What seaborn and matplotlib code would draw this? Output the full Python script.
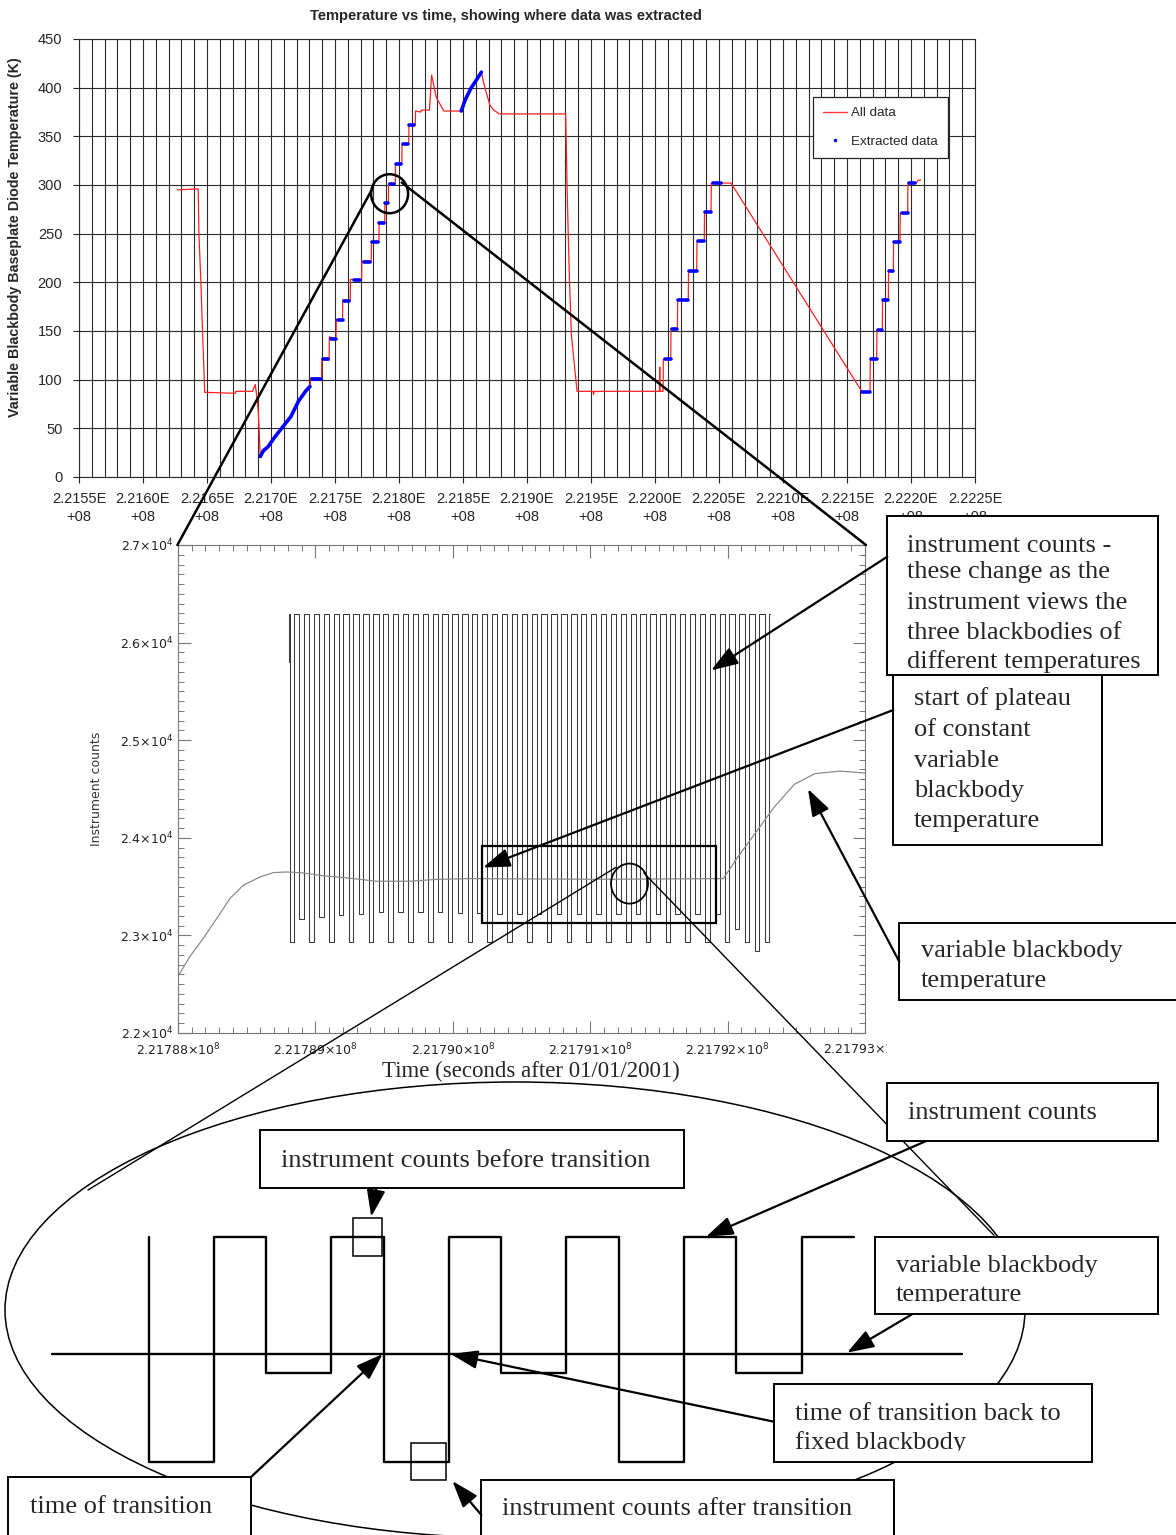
import numpy as np
import pandas as pd
import matplotlib
matplotlib.use('Agg')
import matplotlib.pyplot as plt
import seaborn as sns
from matplotlib.patches import Rectangle, Ellipse
from matplotlib.lines import Line2D
from matplotlib.transforms import Bbox, TransformedBbox

W, H = 1176, 1535

# ---------------- top chart: baseplate temperature (K) vs time (s)
red_t = [221626700, 221643100, 221643750, 221645200, 221646700, 221648200, 221672200, 221672400,
         221685600, 221687700, 221689200, 221690100, 221691600, 221697600, 221703500, 221709500,
         221715500, 221721500, 221727500, 221730500, 221731100, 221739500, 221739700, 221745400,
         221745600, 221750800, 221751000, 221755900, 221756100, 221761900, 221762100, 221770800,
         221771000, 221778300, 221778500, 221784300, 221784500, 221788800, 221789000, 221791700,
         221791900, 221797100, 221797300, 221802200, 221802400, 221807600, 221807800, 221812700,
         221812900, 221817200, 221817400, 221823750, 221825500, 221829100, 221835100, 221848600,
         221851600, 221856000, 221860500, 221864400, 221866500, 221871000, 221874000, 221878400,
         221930200, 221931600, 221933200, 221934700, 221936800, 221939100, 221951600, 221952000,
         221952400, 222003400, 222003700, 222004000, 222006300, 222006500, 222012300, 222012500,
         222017500, 222017700, 222026000, 222026200, 222032600, 222032800, 222038500, 222038700,
         222043800, 222044000, 222059400, 222161500, 222168000, 222168200, 222173200, 222173400,
         222177600, 222177800, 222182300, 222182500, 222186200, 222186400, 222191400, 222191600,
         222197400, 222197600, 222203900, 222205700, 222207600]
red_k = [295, 296, 247, 201, 142, 87, 86, 88,
         88, 95, 80, 67, 21, 31, 42, 52,
         62, 78, 89, 93, 102, 101, 121, 120,
         144, 142, 162, 161, 182, 181, 203, 202,
         222, 221, 242, 241, 262, 261, 282, 281,
         302, 301, 322, 322, 342, 342, 362, 362,
         376, 375, 377, 377, 413, 390, 376, 376,
         387, 399, 408, 416, 403, 382, 377, 373,
         373, 281, 201, 146, 118, 88, 88, 85,
         88, 88, 113, 88, 88, 121, 121, 152,
         152, 182, 182, 212, 212, 242, 242, 272,
         272, 302, 302, 88, 87, 121, 121, 151,
         151, 182, 182, 212, 212, 241, 241, 271,
         271, 302, 302, 305, 305]

# extracted plateaus (start, end, level)
ext_t0 = [221731950, 221740900, 221746900, 221752000, 221757300, 221764800, 221772300, 221779200,
          221784300, 221788800, 221792700, 221798000, 221802800, 221808200, 222007800, 222013000,
          222018200, 222026800, 222033400, 222039100, 222045500, 222161500, 222168800, 222174000,
          222178400, 222182800, 222187000, 222192700, 222198400]
ext_t1 = [221739450, 221744800, 221750800, 221755900, 221761300, 221769300, 221777700, 221783700,
          221787900, 221791700, 221796300, 221801600, 221807000, 221812100, 222012200, 222017400,
          222026000, 222032600, 222038500, 222043800, 222051300, 222168000, 222173200, 222177100,
          222182300, 222186200, 222191400, 222197400, 222203100]
ext_k = [101, 121, 142, 161, 181, 202, 221, 241,
         261, 281, 301, 322, 342, 362, 121, 152,
         182, 212, 242, 272, 302, 87, 121, 151,
         182, 212, 241, 271, 302]
# extracted ramps
ramp1_t = [221691600, 221694000, 221697600, 221703500, 221709500, 221715500, 221721500, 221727500, 221730500]
ramp1_k = [21, 27, 31, 42, 52, 62, 78, 89, 93]
ramp2_t = [221848600, 221851600, 221856000, 221860500, 221864400]
ramp2_k = [376, 387, 399, 408, 416]

# ---------------- middle chart: instrument counts vs time
wave_base = 221788000
wave_high = 26290
wave_start_offset, wave_start_level = 810, 25800
wave_end_offset = 4311
dip_halfwidth = 16.5
dip_offsets = [828, 900, 972, 1044, 1116, 1188, 1260, 1332, 1404, 1476, 1548, 1620, 1692, 1764,
               1836, 1908, 1980, 2052, 2124, 2196, 2268, 2341, 2413, 2485, 2557, 2629, 2701, 2773,
               2845, 2917, 2989, 3061, 3133, 3205, 3277, 3349, 3421, 3493, 3565, 3637, 3709, 3781,
               3853, 3925, 3997, 4069, 4141, 4214, 4286]
dip_levels = [22930, 23170, 22930, 23190, 22930, 23205, 22930, 23220, 22930, 23235, 22930, 23240,
              22930, 23240, 22930, 23235, 22930, 23230, 22930, 23225, 22930, 23220, 22930, 23220,
              22930, 23215, 22930, 23215, 22930, 23215, 22930, 23215, 22930, 23215, 22930, 23215,
              22930, 23215, 22930, 23220, 22930, 23220, 22930, 23220, 22930, 23070, 22930, 22840,
              22930]
bb_offsets = [0, 87, 184, 282, 378, 475, 597, 694, 791, 912, 1033, 1276, 1446, 1688, 1883,
              2125, 3084, 3969, 4066, 4163, 4337, 4485, 4634, 4819, 5000]
bb_counts = [22580, 22785, 22970, 23173, 23378, 23513, 23599, 23643, 23650, 23640, 23615, 23582,
             23555, 23555, 23574, 23582, 23575, 23582, 23786, 23974, 24310, 24547, 24657, 24683, 24664]

# schematic of the square wave (diagram)
schem_x = [148.5, 148.5, 213.5, 213.5, 266.4, 266.4, 331.4, 331.4, 383.9, 383.9, 448.9, 448.9,
           501.3, 501.3, 566.4, 566.4, 619.2, 619.2, 684.3, 684.3, 736, 736, 801.8, 801.8, 853.8]
schem_y = [1236.7, 1461.7, 1461.7, 1236.7, 1236.7, 1372.7, 1372.7, 1236.7, 1236.7, 1461.7, 1461.7,
           1236.7, 1236.7, 1372.7, 1372.7, 1236.7, 1236.7, 1461.7, 1461.7, 1236.7, 1236.7, 1372.7,
           1372.7, 1236.7, 1236.7]

sns.set_style('white')
plt.rcParams['font.family'] = ['Liberation Sans', 'DejaVu Sans']

fig = plt.figure(figsize=(W / 100, H / 100), dpi=100)


def box(x0, y0, x1, y1):
    return [x0 / W, 1 - y1 / H, (x1 - x0) / W, (y1 - y0) / H]


# ================= top chart
ax1 = fig.add_axes(box(79, 39, 975, 477))
sns.lineplot(x=red_t, y=red_k, sort=False, estimator=None, color='#ff2020', lw=0.9, ax=ax1)
rows = []
for i, (a, b, k) in enumerate(zip(ext_t0, ext_t1, ext_k)):
    rows += [(i, a, k), (i, b, k)]
n = len(ext_k)
rows += [(n, t, k) for t, k in zip(ramp1_t, ramp1_k)]
rows += [(n + 1, t, k) for t, k in zip(ramp2_t, ramp2_k)]
ext = pd.DataFrame(rows, columns=['seg', 't', 'k'])
sns.lineplot(data=ext, x='t', y='k', units='seg', estimator=None, sort=False,
             color='#0000ff', lw=2.6, ax=ax1, legend=False)

ax1.set_xlim(2.2155e8, 2.2225e8)
ax1.set_ylim(0, 450)
major = np.arange(2.2155e8, 2.2225e8 + 1, 5e4)
ax1.set_xticks(major)
ax1.set_xticks(np.arange(2.2155e8, 2.2225e8 + 1, 1e4), minor=True)
ax1.set_xticklabels([f'{v / 1e8:.4f}E\n+08' for v in major], fontsize=10.5, family='Liberation Sans',
                    linespacing=1.3)
ax1.set_yticks(range(0, 451, 50))
ax1.set_yticklabels([str(v) for v in range(0, 451, 50)], fontsize=10.5, family='Liberation Sans')
ax1.grid(True, which='both', axis='x', color='#2b2b2b', lw=0.8)
ax1.grid(True, which='major', axis='y', color='#2b2b2b', lw=0.8)
ax1.tick_params(axis='x', which='major', length=4, direction='out', pad=7, color='#222')
ax1.tick_params(axis='x', which='minor', length=0)
ax1.tick_params(axis='y', length=4, direction='out', pad=8, color='#222')
ax1.tick_params(axis='both', which='both', bottom=True, left=True)
for s in ax1.spines.values():
    s.set_color('#2b2b2b')
    s.set_linewidth(0.8)
ax1.set_xlabel('')
ax1.set_ylabel('Variable Blackbody Baseplate Diode Temperature (K)', fontsize=10.3,
               fontweight='bold', family='Liberation Sans')
ax1.yaxis.set_label_coords(-0.0636, 0.547)
handles = [Line2D([0], [0], color='#ff4040', lw=1.0),
           Line2D([0], [0], color='#0000ff', marker='.', ls='none', ms=3)]
leg = ax1.legend(handles, ['All data', 'Extracted data'], loc='upper left',
                 bbox_to_anchor=(0.819, 0.8676), borderaxespad=0, frameon=True, fancybox=False,
                 framealpha=1, edgecolor='#222', prop={'family': 'Liberation Sans', 'size': 9.6},
                 labelspacing=1.2, handlelength=1.8, handletextpad=0.3, borderpad=0.75)
leg.get_frame().set_linewidth(0.9)
fig.text(505.5 / W, 1 - 16 / H, 'Temperature vs time, showing where data was extracted',
         ha='center', va='center', fontsize=10.5, fontweight='bold', family='Liberation Sans')

# ================= middle chart
ax2 = fig.add_axes(box(178, 545, 865, 1033))
wave_t = [wave_base + wave_start_offset, wave_base + wave_start_offset]
wave_c = [wave_start_level, wave_high]
for off, lev in zip(dip_offsets, dip_levels):
    a = wave_base + off - dip_halfwidth
    b = wave_base + off + dip_halfwidth
    wave_t += [a, a, b, b]
    wave_c += [wave_high, lev, lev, wave_high]
wave_t.append(wave_base + wave_end_offset)
wave_c.append(wave_high)
sns.lineplot(x=wave_t, y=wave_c, sort=False, estimator=None, color='#3a3a3a', lw=0.75, ax=ax2)
sns.lineplot(x=[wave_base + o for o in bb_offsets], y=bb_counts, sort=False, estimator=None,
             color='#8a8a8a', lw=0.9, ax=ax2)
ax2.set_xlim(wave_base, wave_base + 5000)
ax2.set_ylim(22000, 27000)
xt = np.arange(wave_base, wave_base + 5001, 1000)
ax2.set_xticks(xt)
ax2.set_xticks(np.arange(wave_base, wave_base + 5001, 100), minor=True)
xl = [r'$%.5f{\times}10^{8}$' % (v / 1e8) for v in xt]
xl[-1] = ''
ax2.set_xticklabels(xl, fontsize=9, color='#222')
yt = np.arange(22000, 27001, 1000)
ax2.set_yticks(yt)
ax2.set_yticks(np.arange(22000, 27001, 100), minor=True)
ax2.set_yticklabels([r'$%.1f{\times}10^{4}$' % (v / 1e4) for v in yt], fontsize=9, color='#222')
ax2.tick_params(which='both', direction='in', top=True, right=True, bottom=True, left=True,
                color='#777')
ax2.tick_params(which='major', length=9, width=0.8)
ax2.tick_params(which='minor', length=4.5, width=0.7)
ax2.tick_params(axis='x', pad=6.5)
ax2.tick_params(axis='y', pad=3)
for s in ax2.spines.values():
    s.set_color('#777')
    s.set_linewidth(0.8)
ax2.set_xlabel('')
ax2.set_ylabel('Instrument counts', fontsize=9, color='#333', family='DejaVu Sans')
ax2.yaxis.set_label_coords(-0.109, 0.5)
fig.text(531 / W, 1 - 1071 / H, 'Time (seconds after 01/01/2001)', ha='center', va='center',
         fontsize=16.5, family='Liberation Serif')

# ================= overlay: annotations
ax3 = fig.add_axes([0, 0, 1, 1])
ax3.set_xlim(0, W)
ax3.set_ylim(H, 0)
ax3.axis('off')


def clip_to(artist, x0, y0, x1, y1):
    artist.set_clip_box(TransformedBbox(Bbox([[x0, y0], [x1, y1]]), ax3.transData))
    artist.set_clip_on(True)


last = ax3.text(865, 1049, r'$2.21793{\times}10^{8}$', ha='center', va='center', fontsize=9,
                color='#222')
clip_to(last, 0, 1036, 887, 1065)

# zoom lines and circles
ax3.add_patch(Ellipse((389.6, 193.7), 37, 39, fill=False, lw=1.8, ec='k', zorder=2))
ax3.plot([373, 177.4], [187.6, 545], color='k', lw=1.8, zorder=2)
ax3.plot([401.8, 866], [182.6, 545], color='k', lw=1.8, zorder=2)
ax3.add_patch(Rectangle((482, 846), 234, 77, fill=False, lw=1.6, ec='k', zorder=2))
ax3.add_patch(Ellipse((629.5, 883.6), 37, 40, fill=False, lw=1.3, ec='k', zorder=2))
ax3.plot([615.7, 88], [867.5, 1190], color='k', lw=1.0, zorder=2)
ax3.plot([643.8, 994], [872.9, 1235.3], color='k', lw=1.0, zorder=2)
ax3.add_patch(Ellipse((515, 1310), 1020, 456, fill=False, lw=1.1, ec='k', zorder=1))

# schematic
ax3.plot([51.7, 961.8], [1354, 1354], color='k', lw=1.7, zorder=2)
ax3.plot(schem_x, schem_y, color='k', lw=1.7, zorder=2)
ax3.add_patch(Rectangle((353.2, 1217.7), 28.4, 38, fill=False, lw=1.1, ec='k', zorder=2))
ax3.add_patch(Rectangle((411.4, 1442.7), 34.8, 37.3, fill=False, lw=1.1, ec='k', zorder=2))

# text boxes: (x0, y0, x1, y1), text x, text clip margin, [(line, baseline y)]
notes = [
    ((887.3, 516, 1157.7, 675), 907.3, 1, [('instrument counts -', 552), ('these change as the', 578),
                                           ('instrument views the', 609), ('three blackbodies of', 639),
                                           ('different temperatures', 668)]),
    ((893.3, 675, 1102.3, 845), 914, 1, [('start of plateau', 705), ('of constant', 736),
                                         ('variable', 766.7), ('blackbody', 796.7),
                                         ('temperature', 827.3)]),
    ((899.3, 922.7, 1182, 1000), 920.7, 11, [('variable blackbody', 956.7), ('temperature', 987.3)]),
    ((887.1, 1082.7, 1157.7, 1141), 908.2, 1, [('instrument counts', 1119.3)]),
    ((260.2, 1130, 684, 1188.3), 281.3, 1, [('instrument counts before transition', 1166.7)]),
    ((874.9, 1236.7, 1157.7, 1314.3), 896, 12, [('variable blackbody', 1271.7),
                                                ('temperature', 1300.7)]),
    ((773.9, 1384, 1091.9, 1462.3), 795, 11, [('time of transition back to', 1420),
                                              ('fixed blackbody', 1449.3)]),
    ((8.4, 1477.3, 250.7, 1545), 29.5, 1, [('time of transition', 1513.3)]),
    ((481.4, 1480, 893.6, 1545), 502.5, 1, [('instrument counts after transition', 1515)]),
]
for (x0, y0, x1, y1), tx, margin, lines in notes:
    ax3.add_patch(Rectangle((x0, y0), x1 - x0, y1 - y0, fc='white', ec='k', lw=1.4, zorder=3))
    for s, yb in lines:
        t = ax3.text(tx, yb, s, ha='left', va='baseline', fontsize=19,
                     family='Liberation Serif', zorder=4)
        clip_to(t, x0, y0, x1, y1 - margin)

arrows = [((887.3, 556.7), (711.1, 670.4)), ((893.3, 710), (483, 867.5)),
          ((899.3, 961.7), (808, 789)), ((926.2, 1141), (706.1, 1236.7)),
          ((912, 1314.3), (847, 1352.7)), ((773.9, 1421.7), (450.8, 1354)),
          ((250.7, 1477.3), (382.7, 1354)), ((376.2, 1189), (371.2, 1216.7)),
          ((481.4, 1515), (452.4, 1481))]
for tail, tip in arrows:
    ax3.annotate('', xy=tip, xytext=tail, zorder=5,
                 arrowprops=dict(arrowstyle='-|>,head_length=1.1,head_width=0.38', color='k',
                                 lw=1.6, shrinkA=0, shrinkB=0, mutation_scale=15))

fig.savefig('out.png', dpi=100)
